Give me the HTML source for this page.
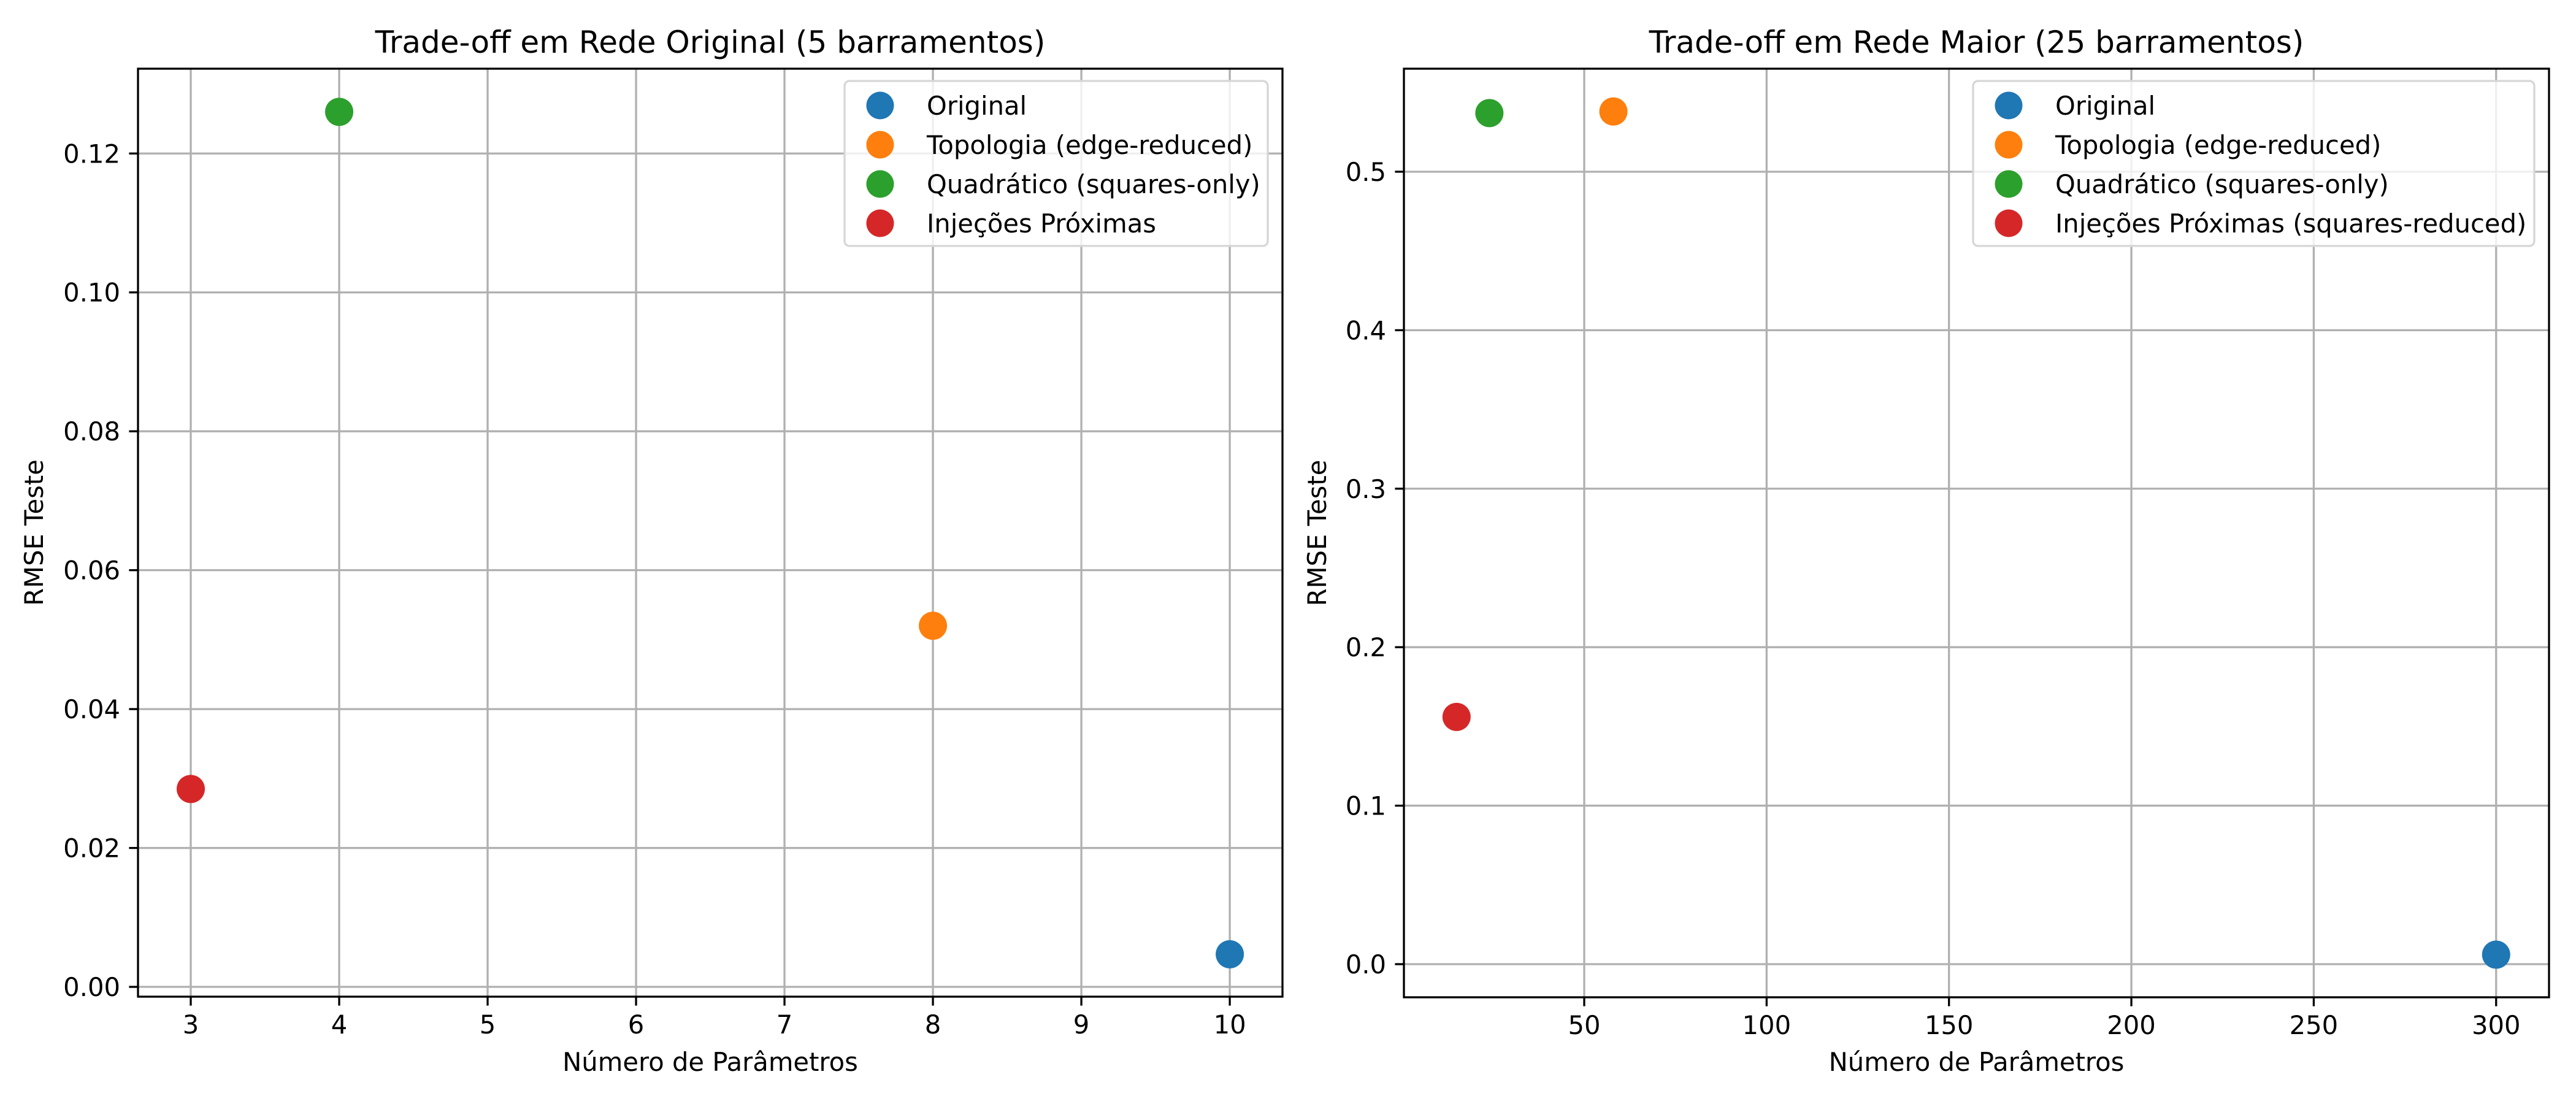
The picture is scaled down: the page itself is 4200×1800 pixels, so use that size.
<!DOCTYPE html>
<html><head><meta charset="utf-8"><style>
body{margin:0;background:#fff}
svg{display:block;font-family:"DejaVu Sans","Liberation Sans",sans-serif}
</style></head><body>
<svg id="c" width="4200" height="1800"></svg>
<script>
const seriesNames=["Original","Topologia (edge-reduced)","Quadrático (squares-only)","Injeções Próximas"];
const seriesNamesRight=["Original","Topologia (edge-reduced)","Quadrático (squares-only)","Injeções Próximas (squares-reduced)"];
const colors=["#1f77b4","#ff7f0e","#2ca02c","#d62728"];
const leftParams=[10,8,4,3];
const leftRmse=[0.0047,0.052,0.126,0.0285];
const rightParams=[300,58,24,15];
const rightRmse=[0.006,0.538,0.537,0.156];
const leftXTicks=[3,4,5,6,7,8,9,10];
const leftYTicks=[0,0.02,0.04,0.06,0.08,0.10,0.12];
const leftYLabels=["0.00","0.02","0.04","0.06","0.08","0.10","0.12"];
const rightXTicks=[50,100,150,200,250,300];
const rightYTicks=[0,0.1,0.2,0.3,0.4,0.5];
const rightYLabels=["0.0","0.1","0.2","0.3","0.4","0.5"];

const NS="http://www.w3.org/2000/svg";
const svg=document.getElementById('c');
function mk(tag,attrs,parent,text){const e=document.createElementNS(NS,tag);for(const k in attrs)e.setAttribute(k,attrs[k]);if(text!==undefined)e.textContent=text;(parent||svg).appendChild(e);return e;}

function panel(p){
  const g=mk('g',{});
  
  
  const sx=v=>p.x0+(v-p.xmin)/(p.xmax-p.xmin)*(p.x1-p.x0);
  const sy=v=>p.y1-(v-p.ymin)/(p.ymax-p.ymin)*(p.y1-p.y0);
  p.xt.forEach(t=>{
    const X=sx(t);
    const l=mk('line',{x1:X,x2:X,y1:p.y0,y2:p.y1,stroke:'#b0b0b0','stroke-width':3.3},g);
    
    
    mk('line',{x1:X,x2:X,y1:p.y1,y2:p.y1+14.6,stroke:'#000','stroke-width':3.3},g);
    const tx=mk('text',{x:X,y:p.y1+60,'font-size':41.7,'text-anchor':'middle'},g,String(t));
    
    
  });
  p.yt.forEach((t,i)=>{
    const Y=sy(t);
    const l=mk('line',{x1:p.x0,x2:p.x1,y1:Y,y2:Y,stroke:'#b0b0b0','stroke-width':3.3},g);
    
    
    mk('line',{x1:p.x0-14.6,x2:p.x0,y1:Y,y2:Y,stroke:'#000','stroke-width':3.3},g);
    const tx=mk('text',{x:p.x0-29,y:Y+15,'font-size':41.7,'text-anchor':'end'},g,p.yl[i]);
    
    
  });
  p.px.forEach((v,i)=>{
    const c=mk('circle',{cx:sx(v),cy:sy(p.py[i]),r:23,fill:colors[i]},g);
    
    
  });
  const fr=mk('rect',{x:p.x0,y:p.y0,width:p.x1-p.x0,height:p.y1-p.y0,fill:'none',stroke:'#000','stroke-width':3.3},g);
  
  
  const ti=mk('text',{x:(p.x0+p.x1)/2,y:86,'font-size':50,'text-anchor':'middle'},g,p.title);
  
  
  const xl=mk('text',{x:(p.x0+p.x1)/2,y:1746,'font-size':41.7,'text-anchor':'middle'},g,'Número de Parâmetros');
  
  
  const yx=p.ylx;
  const yl=mk('text',{x:yx,y:(p.y0+p.y1)/2,'font-size':41.7,'text-anchor':'middle',transform:`rotate(-90 ${yx} ${(p.y0+p.y1)/2})`},g,'RMSE Teste');
  
  
  const lg=mk('g',{},g);
  
  
  mk('rect',{x:p.lx0,y:132,width:p.lx1-p.lx0,height:269,rx:8,fill:'#fff','fill-opacity':0.8,stroke:'#d6d6d6','stroke-width':3.3},lg);
  p.names.forEach((n,i)=>{
    const cy=172+i*64;
    const c=mk('circle',{cx:p.lx0+58,cy:cy,r:22.5,fill:colors[i]},lg);
    
    
    const t=mk('text',{x:p.lx0+134,y:cy+15,'font-size':41.7},lg,n);
    
    
  });
}
panel({name:'left-panel',x0:225,x1:2091,y0:112,y1:1625,xmin:2.6446,xmax:10.355,ymin:-0.00141,ymax:0.13221,
  xt:leftXTicks,yt:leftYTicks,yl:leftYLabels,px:leftParams,py:leftRmse,title:'Trade-off em Rede Original (5 barramentos)',
  ylx:70,names:seriesNames,lx0:1377,lx1:2067});
panel({name:'right-panel',x0:2289,x1:4156,y0:112,y1:1626,xmin:0.57,xmax:314.5,ymin:-0.0209,ymax:0.5650,
  xt:rightXTicks,yt:rightYTicks,yl:rightYLabels,px:rightParams,py:rightRmse,title:'Trade-off em Rede Maior (25 barramentos)',
  ylx:2162,names:seriesNamesRight,lx0:3217,lx1:4132});
</script>
</body></html>
